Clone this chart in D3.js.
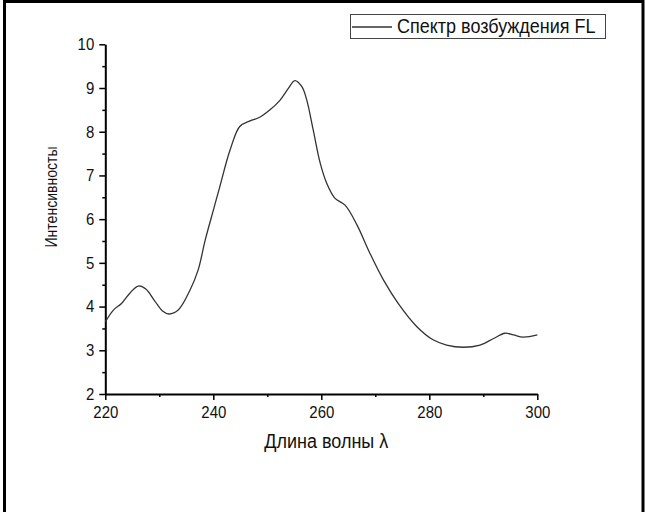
<!DOCTYPE html>
<html>
<head>
<meta charset="utf-8">
<script src="https://cdn.jsdelivr.net/npm/d3@7"></script>
<style>
  body { margin: 0; background: #fff; }
  svg { display: block; font-family: "Liberation Sans", Arial, sans-serif; }
</style>
</head>
<body>
<svg id="chart" width="645" height="512"></svg>
<script>
// excitation spectrum
var wavelengths = [220, 221.5, 223, 224.5, 226.1, 227.5, 229.2, 230.6, 231.8, 233.5, 235.7, 237.2,
  238.5, 240, 241.2, 243.1, 244.9, 246.8, 248.6, 250.5, 252.3, 253.9, 255.1, 256.4, 257.3, 258.5,
  259.8, 261, 262.5, 264.4, 266.6, 269, 271.5, 274.2, 277.7, 280.7, 283.2, 286.3, 289.4,
  291.9, 294, 295.6, 297.4, 300];
var intensity = [3.65, 3.92, 4.07, 4.3, 4.47, 4.4, 4.12, 3.9, 3.83, 3.92, 4.38, 4.84,
  5.52, 6.2, 6.74, 7.58, 8.12, 8.25, 8.33, 8.5, 8.71, 8.99, 9.17, 9.03, 8.73, 8.04,
  7.28, 6.82, 6.48, 6.32, 5.87, 5.22, 4.61, 4.08, 3.54, 3.24, 3.12, 3.07, 3.12,
  3.27, 3.39, 3.35, 3.3, 3.35];
var xTicks = [220, 240, 260, 280, 300];
var xMinor = [230, 250, 270, 290];
var yTicks = [2, 3, 4, 5, 6, 7, 8, 9, 10];
var yMinor = [2.5, 3.5, 4.5, 5.5, 6.5, 7.5, 8.5, 9.5];
var seriesName = "Спектр возбуждения FL";
var xTitle = "Длина волны λ";
var yTitle = "Интенсивносты";

var svg = d3.select("#chart"),
  plotLeft = 105.3, plotRight = 537.3, plotTop = 44.3, plotBottom = 394,
  stretch = 1.1, // the source picture is a bit taller than wide
  x = d3.scaleLinear().domain([220, 300]).range([plotLeft, plotRight]),
  y = d3.scaleLinear().domain([2, 10]).range([plotBottom, plotTop]),
  points = wavelengths.map(function (w, i) { return [w, intensity[i]]; });

// frame round the picture
svg.append("path")
  .attr("d", "M4.5,512 V1.5 H643 V512")
  .attr("fill", "none")
  .attr("stroke", "#000")
  .attr("stroke-width", 3);

var styleAxis = function (g) {
  g.select(".domain").attr("stroke-width", 2);
  g.selectAll(".tick line").attr("stroke-width", 1.5);
  g.selectAll(".tick text").attr("font-size", 15).attr("fill", "#111")
    .attr("font-family", "'Liberation Sans', Arial, sans-serif")
    .attr("transform", "scale(1," + stretch + ")");
};

// minor ticks first, then the main axes over them
svg.append("g")
  .attr("transform", "translate(0," + plotBottom + ")")
  .call(d3.axisBottom(x).tickValues(xMinor).tickSize(3).tickFormat(""))
  .call(function (g) { g.select(".domain").remove(); g.selectAll("line").attr("stroke-width", 1.5); });
svg.append("g")
  .attr("transform", "translate(" + plotLeft + ",0)")
  .call(d3.axisLeft(y).tickValues(yMinor).tickSize(3).tickFormat(""))
  .call(function (g) { g.select(".domain").remove(); g.selectAll("line").attr("stroke-width", 1.5); });

svg.append("g")
  .attr("transform", "translate(0," + plotBottom + ")")
  .call(d3.axisBottom(x).tickValues(xTicks).tickSize(6).tickSizeOuter(0).tickPadding(5))
  .call(styleAxis);
svg.append("g")
  .attr("transform", "translate(" + plotLeft + ",0)")
  .call(d3.axisLeft(y).tickValues(yTicks).tickSize(6).tickSizeOuter(0).tickPadding(5))
  .call(styleAxis);

svg.append("path")
  .datum(points)
  .attr("fill", "none")
  .attr("stroke", "#333")
  .attr("stroke-width", 1.3)
  .attr("d", d3.line()
    .x(function (d) { return x(d[0]); })
    .y(function (d) { return y(d[1]); })
    .curve(d3.curveCatmullRom));

svg.append("text")
  .attr("transform", "translate(" + ((plotLeft + plotRight) / 2 + 5) + ",448) scale(1," + stretch + ")")
  .attr("text-anchor", "middle")
  .attr("font-size", 18)
  .attr("fill", "#111")
  .text(xTitle);

svg.append("text")
  .attr("transform", "translate(57,197) rotate(-90)")
  .attr("text-anchor", "middle")
  .attr("font-size", 16)
  .attr("textLength", 101)
  .attr("lengthAdjust", "spacingAndGlyphs")
  .attr("fill", "#111")
  .text(yTitle);

// legend
var legend = svg.append("g");
legend.append("rect")
  .attr("x", 350.5).attr("y", 14.5).attr("width", 255).attr("height", 24)
  .attr("fill", "#fff").attr("stroke", "#444").attr("stroke-width", 1);
legend.append("line")
  .attr("x1", 352).attr("x2", 392).attr("y1", 27).attr("y2", 27)
  .attr("stroke", "#333").attr("stroke-width", 1.3);
legend.append("text")
  .attr("transform", "translate(397,33) scale(1," + stretch + ")")
  .attr("font-size", 18)
  .attr("fill", "#111")
  .text(seriesName);
</script>
</body>
</html>
